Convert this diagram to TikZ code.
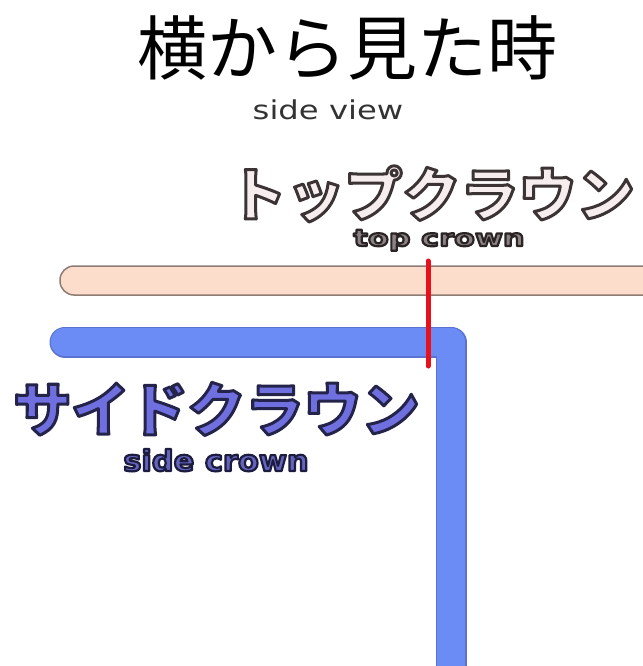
\documentclass[tikz,border=0pt]{standalone}
\usepackage{fontspec}
\newfontfamily\jpfont{Noto Sans CJK JP}
\newfontfamily\sidefont[FakeStretch=1.24]{DejaVu Sans}
\newfontfamily\topcrfont[FakeStretch=1.32]{DejaVu Sans Bold}
\newfontfamily\sidecrfont[FakeStretch=1.05]{DejaVu Sans Bold}
% fill colour, stroke width, stroke RGB, text
\newcommand\outltext[4]{{\color{#1}\special{pdf:literal direct 2 Tr #2 w 1 j #3 RG}#4\special{pdf:literal direct 0 Tr}}}
\definecolor{peachfill}{HTML}{FCDCCA}
\definecolor{peachline}{HTML}{8C7C74}
\definecolor{bluefill}{HTML}{6B8BF5}
\definecolor{blueedge}{HTML}{5C72D0}
\definecolor{redline}{HTML}{E8101A}
\definecolor{tcjfill}{HTML}{F6EEEE}
\definecolor{tcefill}{HTML}{8C8484}
\definecolor{scjfill}{HTML}{6F6FE0}
\definecolor{scefill}{HTML}{6464BC}
\tikzset{
  txt/.style={inner sep=0pt, outer sep=0pt, anchor=base},
  titlestyle/.style={txt, font=\jpfont\fontsize{70}{70}\selectfont, text=black},
  substyle/.style={txt, font=\sidefont\fontsize{26}{26}\selectfont, text=black!80},
  jpout/.style={txt, font=\jpfont\bfseries\fontsize{58}{58}\selectfont},
  topcr/.style={txt, font=\topcrfont\fontsize{23}{23}\selectfont},
  sidecr/.style={txt, font=\sidecrfont\fontsize{29}{29}\selectfont},
  peachbar/.style={fill=peachfill, draw=peachline, line width=1.5pt},
  blueedgeline/.style={draw=blueedge, line width=31pt, line cap=round, line join=round},
  bluefillline/.style={draw=bluefill, line width=28.5pt, line cap=round, line join=round},
  redmark/.style={draw=redline, line width=5pt, line cap=round}
}
\begin{document}
\begin{tikzpicture}[x=1pt,y=-1pt]
\useasboundingbox[fill=white] (0,0) rectangle (642,666);
% top crown bar
\draw[peachbar, rounded corners=14pt] (60,266) rectangle (680,295);
% side crown L shape
\coordinate (bl) at (65,342);
\coordinate (bc) at (451,342);
\coordinate (bb) at (451,700);
\draw[blueedgeline] (bl) -- (bc) -- (bb);
\draw[bluefillline] (bl) -- (bc) -- (bb);
% red marker
\coordinate (rt) at (428,261);
\coordinate (rb) at (428,366);
\draw[redmark] (rt) -- (rb);
% texts
\node[titlestyle] (title) at (347,75) {横から見た時};
\node[substyle] (sv) at (328,120) {side view};
\node[jpout] (tcj) at (431.5,216) {\outltext{tcjfill}{3}{0.235 0.204 0.204}{トップクラウン}};
\node[topcr] (tce) at (439,246) {\outltext{tcefill}{2.2}{0.165 0.141 0.141}{top crown}};
\node[jpout] (scj) at (216.5,431) {\outltext{scjfill}{3}{0.141 0.141 0.29}{サイドクラウン}};
\node[sidecr] (sce) at (216,471) {\outltext{scefill}{2.2}{0.11 0.11 0.25}{side crown}};
\end{tikzpicture}
\end{document}
